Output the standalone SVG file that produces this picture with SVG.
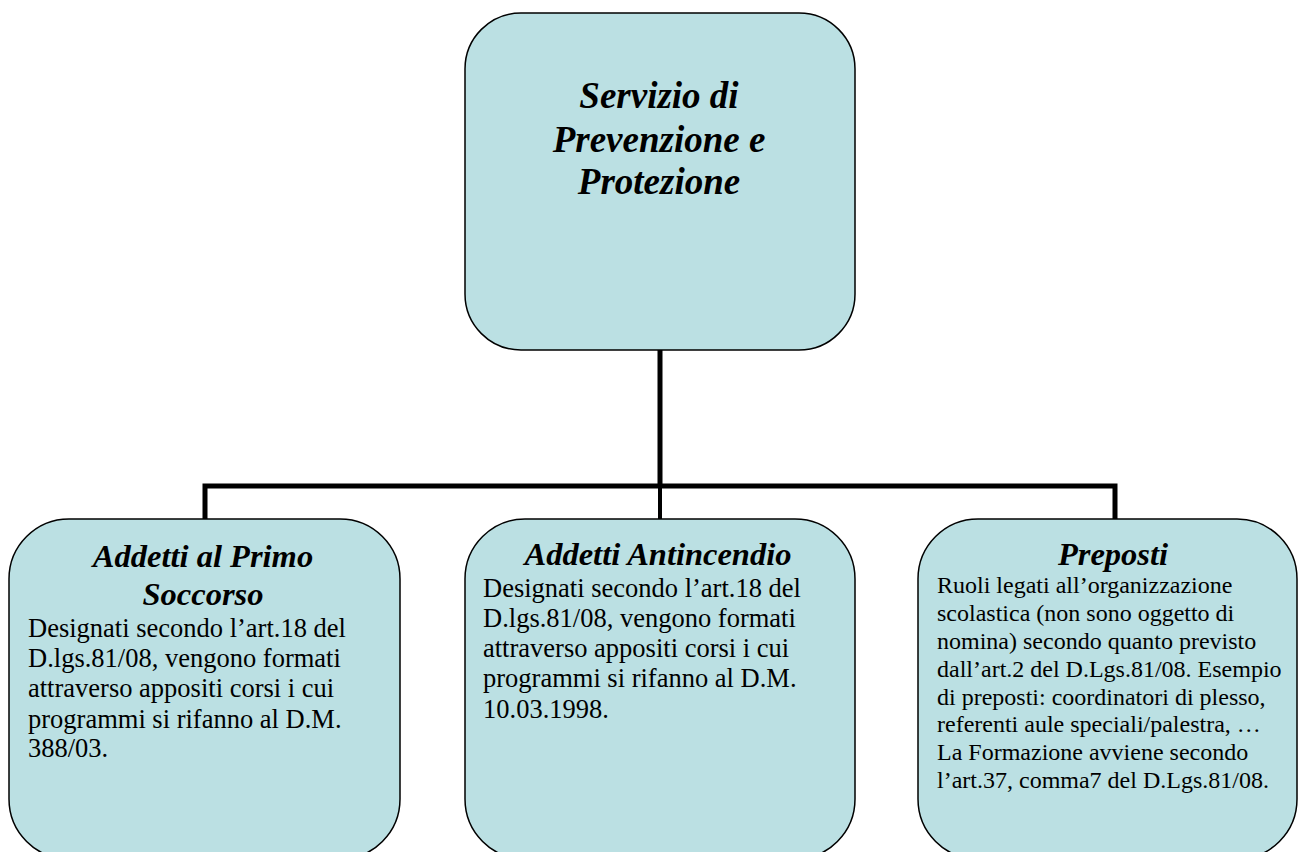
<svg xmlns="http://www.w3.org/2000/svg" width="1300" height="852" viewBox="0 0 1300 852">
<style>
.box{fill:#bbe0e3;stroke:#000;stroke-width:1.5}
.t{font-family:"Liberation Serif","Times New Roman",serif;fill:#000}
.h{font-weight:bold;font-style:italic;text-anchor:middle}
.conn{stroke:#000;fill:none}
</style>
<rect width="1300" height="852" fill="#fff"/>
<g id="connectors">
<line class="conn" x1="660" y1="350" x2="660" y2="486" stroke-width="5"/>
<polyline class="conn" points="205,519 205,486 1115,486 1115,519" stroke-width="5"/>
<line class="conn" x1="660" y1="486" x2="660" y2="519" stroke-width="4"/>
</g>
<g id="node-spp">
<rect class="box" x="465" y="13" width="390" height="337" rx="56" ry="56"/>
<text class="t h" font-size="37" x="659" y="108">Servizio di</text>
<text class="t h" font-size="37" x="659" y="152">Prevenzione e</text>
<text class="t h" font-size="37" x="659" y="194">Protezione</text>
</g>
<g id="node-primo-soccorso">
<rect class="box" x="9" y="519" width="391" height="340" rx="60" ry="60"/>
<text class="t h" font-size="32.5" x="203" y="567">Addetti al Primo</text>
<text class="t h" font-size="32.5" x="203" y="605">Soccorso</text>
<text class="t" font-size="26.5" x="28" y="637">Designati secondo l’art.18 del</text>
<text class="t" font-size="26.5" x="28" y="667">D.lgs.81/08, vengono formati</text>
<text class="t" font-size="26.5" x="28" y="697">attraverso appositi corsi i cui</text>
<text class="t" font-size="26.5" x="28" y="728">programmi si rifanno al D.M.</text>
<text class="t" font-size="26.5" x="28" y="757">388/03.</text>
</g>
<g id="node-antincendio">
<rect class="box" x="465" y="519" width="390" height="340" rx="60" ry="60"/>
<text class="t h" font-size="32.5" x="658" y="565">Addetti Antincendio</text>
<text class="t" font-size="26.5" x="483" y="597">Designati secondo l’art.18 del</text>
<text class="t" font-size="26.5" x="483" y="627">D.lgs.81/08, vengono formati</text>
<text class="t" font-size="26.5" x="483" y="657">attraverso appositi corsi i cui</text>
<text class="t" font-size="26.5" x="483" y="687">programmi si rifanno al D.M.</text>
<text class="t" font-size="26.5" x="483" y="718">10.03.1998.</text>
</g>
<g id="node-preposti">
<rect class="box" x="918" y="519" width="379" height="340" rx="60" ry="60"/>
<text class="t h" font-size="32.5" x="1113" y="565">Preposti</text>
<text class="t" font-size="24" x="937" y="593">Ruoli legati all’organizzazione</text>
<text class="t" font-size="24" x="937" y="621">scolastica (non sono oggetto di</text>
<text class="t" font-size="24" x="937" y="649">nomina) secondo quanto previsto</text>
<text class="t" font-size="24" x="937" y="677">dall’art.2 del D.Lgs.81/08. Esempio</text>
<text class="t" font-size="24" x="937" y="705">di preposti: coordinatori di plesso,</text>
<text class="t" font-size="24" x="937" y="732">referenti aule speciali/palestra, …</text>
<text class="t" font-size="24" x="937" y="760">La Formazione avviene secondo</text>
<text class="t" font-size="24" x="937" y="788">l’art.37, comma7 del D.Lgs.81/08.</text>
</g>
</svg>
